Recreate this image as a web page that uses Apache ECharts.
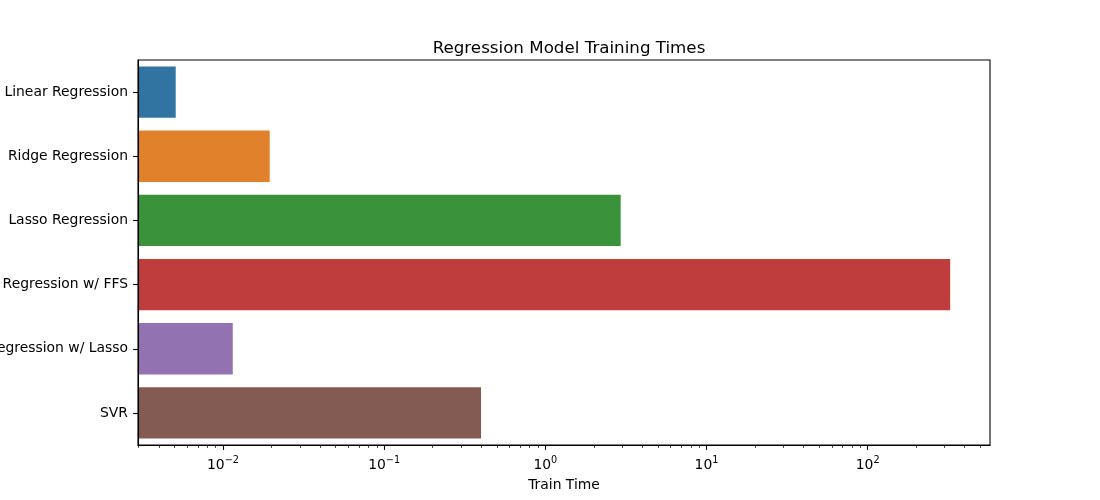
<!DOCTYPE html>
<html>
<head>
<meta charset="utf-8">
<script src="https://cdn.jsdelivr.net/npm/echarts@6/dist/echarts.min.js"></script>
<style>
  html, body { margin: 0; padding: 0; background: #fff; }
  #main { width: 1100px; height: 500px; }
</style>
</head>
<body>
<div id="main"></div>
<script>
// data
var models = ['Linear Regression', 'Ridge Regression', 'Lasso Regression',
              'Linear Regression w/ FFS', 'Linear Regression w/ Lasso', 'SVR'];
var trainTimes = [0.00509, 0.0195, 2.935, 325, 0.0115, 0.399];
var barColors = ['#3274a1', '#e1812c', '#3a923a', '#c03d3e', '#9372b2', '#845b53'];
var majorTicks = [0.01, 0.1, 1, 10, 100];
var xMin = 0.00297, xMax = 574;

// minor ticks 2..9 x 10^k (like matplotlib log locator)
var minorTicks = [];
for (var k = -3; k <= 2; k++) {
    for (var m = 2; m <= 9; m++) {
        var v = m * Math.pow(10, k);
        if (v >= xMin && v <= xMax) minorTicks.push(v);
    }
}

var font = 'DejaVu Sans';
var chart = echarts.init(document.getElementById('main'));

var barData = []
for (var i = 0; i < models.length; i++) {
    barData.push([trainTimes[i], i])
}

var option = {
    backgroundColor: '#fff',
    animation: false,
    title: {
        text: 'Regression Model Training Times',
        left: 564,
        top: 35,
        textAlign: 'center',
        textStyle: { fontFamily: font, fontSize: 16.7, fontWeight: 'normal', color: '#000' }
    },
    grid: {
        left: 138, right: 110, top: 60, bottom: 55,
        outerBoundsMode: 'none',
        containLabel: false,
        show: true, borderColor: '#000', borderWidth: 1.1, backgroundColor: 'transparent'
    },
    xAxis: [
        {
            type: 'log',
            logBase: 10,
            min: xMin,
            max: xMax,
            name: 'Train Time',
            nameLocation: 'middle',
            nameGap: 33,
            nameTextStyle: { fontFamily: font, fontSize: 13.9, color: '#000' },
            axisLine: { show: true, lineStyle: { color: '#000', width: 1.1 } },
            axisTick: { show: true, length: 4.9, lineStyle: { color: '#000', width: 1.1 }, customValues: majorTicks },
            splitLine: { show: false },
            axisLabel: {
                customValues: majorTicks,
                margin: 10,
                formatter: function (v) {
                    var e = Math.round(Math.log10(v));
                    return '{b|10}{s|' + (e < 0 ? '\u2212' + (-e) : e) + '}';
                },
                rich: {
                    b: { fontFamily: font, fontSize: 13.9, color: '#000', verticalAlign: 'bottom', lineHeight: 16 },
                    s: { fontFamily: font, fontSize: 9.7, color: '#000', verticalAlign: 'bottom', padding: [0, 0, 7, 0] }
                }
            }
        },
        {
            type: 'log',
            logBase: 10,
            min: xMin,
            max: xMax,
            position: 'bottom',
            axisLine: { show: false },
            axisTick: { show: true, length: 2.8, lineStyle: { color: '#000', width: 0.8 }, customValues: minorTicks },
            axisLabel: { show: false },
            splitLine: { show: false }
        }
    ],
    yAxis: {
        type: 'category',
        data: models,
        inverse: true,
        axisLine: { show: true, lineStyle: { color: '#000', width: 1.1 } },
        axisTick: { show: true, alignWithLabel: true, length: 4.9, lineStyle: { color: '#000', width: 1.1 } },
        axisLabel: { fontFamily: font, fontSize: 13.9, color: '#000', margin: 10, padding: [3, 0, 0, 0] },
        splitLine: { show: false }
    },
    series: [
        {
            type: 'custom',
            xAxisIndex: 0,
            yAxisIndex: 0,
            z: -1,
            data: barData,
            encode: { x: 0, y: 1 },
            renderItem: function (params, api) {
                var idx = api.value(1);
                var start = api.coord([xMin, idx]);
                var end = api.coord([api.value(0), idx]);
                var h = api.size([0, 1], [1, idx])[1] * 0.8;
                return {
                    type: 'rect',
                    shape: { x: start[0], y: end[1] - h / 2, width: end[0] - start[0], height: h },
                    style: { fill: barColors[params.dataIndex] }
                };
            }
        }
    ]
};
option && chart.setOption(option);
</script>
</body>
</html>
